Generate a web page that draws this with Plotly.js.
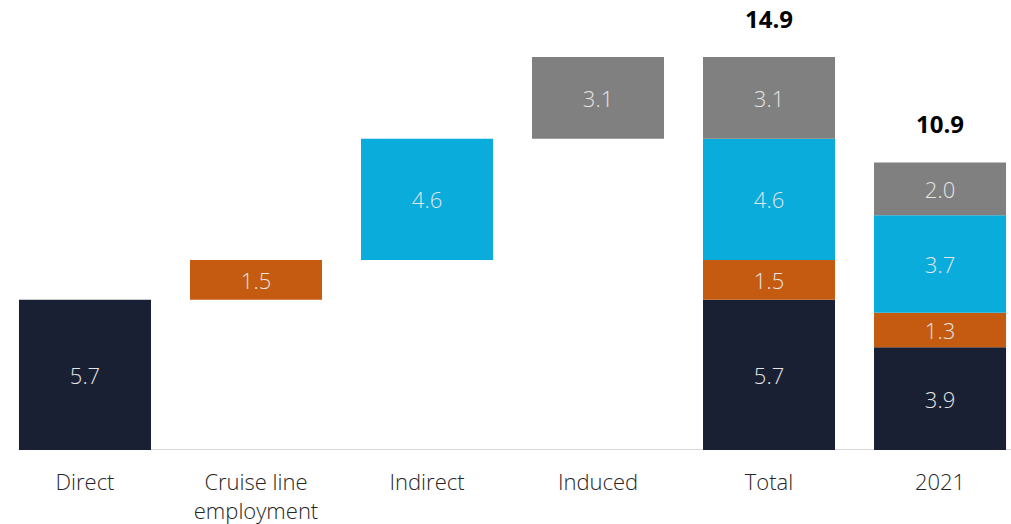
<!DOCTYPE html>
<html>
<head>
<meta charset="utf-8">
<script src="https://cdn.plot.ly/plotly-3.0.1.min.js"></script>
<style>html,body{margin:0;padding:0;background:#fff;}#chart{width:1011px;height:524px;}</style>
</head>
<body>
<div id="chart"></div>
<script>
var categories = ["Direct", "Cruise line<br>employment", "Indirect", "Induced", "Total", "2021"];
var seriesNames = ["Direct", "Cruise line employment", "Indirect", "Induced"];
// values per category for each component (null = no bar)
var directVals   = [5.7, null, null, null, 5.7, 3.9];
var cruiseVals   = [null, 1.5, null, null, 1.5, 1.3];
var indirectVals = [null, null, 4.6, null, 4.6, 3.7];
var inducedVals  = [null, null, null, 3.1, 3.1, 2.0];
var totalLabels  = [null, null, null, null, 14.9, 10.9];
var colors = ["#1a2033", "#c55a11", "#0aacdb", "#808080"];

var series = [directVals, cruiseVals, indirectVals, inducedVals];
var stackBase = categories.map(function(){return 0;});
var traces = [];
series.forEach(function(vals, s){
  var base = [];
  vals.forEach(function(v, i){
    if (v === null) { base.push(null); return; }
    base.push(stackBase[i]);
  });
  traces.push({vals: vals, base: base});
  vals.forEach(function(v, i){ if (v !== null) stackBase[i] += v; });
});
// waterfall steps (first four categories) start where the previous step ended
var cum = 0;
for (var i = 0; i < 4; i++) {
  series.forEach(function(vals, s){
    if (vals[i] !== null) { traces[s].base[i] = cum; }
  });
  series.forEach(function(vals){ if (vals[i] !== null) cum += vals[i]; });
}

var data = traces.map(function(t, s){
  return {
    type: 'bar',
    name: seriesNames[s],
    x: categories,
    y: t.vals,
    base: t.base,
    width: 0.772,
    marker: {color: colors[s], line: {width: 0}},
    text: t.vals.map(function(v){ return v === null ? '' : v.toFixed(1); }),
    textposition: 'inside',
    insidetextanchor: 'middle',
    constraintext: 'none',
    textfont: {family: '"Open Sans", sans-serif', size: 22, color: '#e4e4e4', weight: 300},
    hoverinfo: 'skip',
    showlegend: false
  };
});

var annotations = [];
totalLabels.forEach(function(v, i){
  if (v === null) return;
  annotations.push({
    x: i, y: v, xref: 'x', yref: 'y',
    text: '<b>' + v.toFixed(1) + '</b>',
    showarrow: false, yanchor: 'bottom', yshift: 20,
    font: {family: '"Open Sans", sans-serif', size: 24, color: '#000000'}
  });
});

var layout = {
  width: 1011, height: 524,
  margin: {l: 0, r: 0, t: 0, b: 74, pad: 0},
  paper_bgcolor: '#ffffff', plot_bgcolor: '#ffffff',
  barmode: 'overlay',
  showlegend: false,
  xaxis: {
    type: 'category', range: [-0.497, 5.415],
    showgrid: false, zeroline: false, showline: false, ticks: '',
    ticklabelstandoff: 17,
    tickfont: {family: '"Open Sans", sans-serif', size: 22, color: '#262626', weight: 300},
    fixedrange: true
  },
  yaxis: {
    range: [0, 17.06], showgrid: false, zeroline: false, showline: false,
    showticklabels: false, ticks: '', fixedrange: true
  },
  shapes: [{
    type: 'line', xref: 'paper', yref: 'y', x0: 0.0188, x1: 1, y0: 0, y1: 0,
    line: {color: '#d9d9d9', width: 2}, layer: 'below'
  }],
  annotations: annotations
};

Plotly.newPlot('chart', data, layout, {displayModeBar: false, staticPlot: true});
</script>
</body>
</html>
